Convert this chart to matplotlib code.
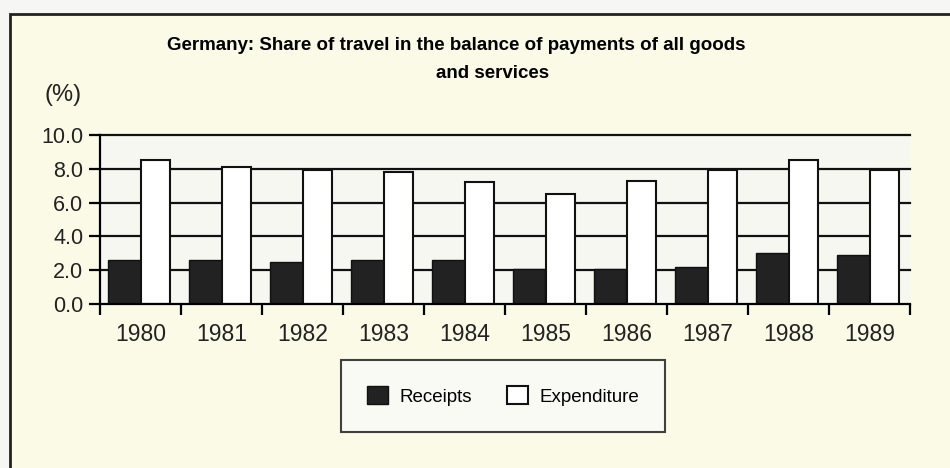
import numpy as np
import matplotlib.pyplot as plt
from matplotlib.patches import Rectangle

years = ['1980', '1981', '1982', '1983', '1984', '1985', '1986', '1987', '1988', '1989']
receipts = [2.6, 2.6, 2.5, 2.6, 2.6, 2.1, 2.1, 2.2, 3.0, 2.9]
expenditure = [8.5, 8.1, 7.9, 7.8, 7.2, 6.5, 7.3, 7.9, 8.5, 7.9]
yticks = [0.0, 2.0, 4.0, 6.0, 8.0, 10.0]

plt.rcParams['font.family'] = ['Liberation Sans', 'DejaVu Sans']

W, H = 950, 468
fig = plt.figure(figsize=(W / 100, H / 100), dpi=100)
fig.patch.set_facecolor('#f6f6f4')

# outer frame
fig.patches.append(Rectangle((10 / W, -0.05), 1.1, 1 - 14 / H + 0.05,
                             transform=fig.transFigure, facecolor='#fafae6',
                             edgecolor='#222222', linewidth=2, zorder=0))

ax = fig.add_axes([100 / W, 1 - 304 / H, 810 / W, 169 / H])
ax.set_zorder(2)
ax.set_facecolor('#f7f7f2')

x = np.arange(len(years))
ax.bar(x + 0.1, receipts, width=0.4, align='edge', color='#222222',
       edgecolor='#111111', linewidth=1, zorder=3, label='Receipts')
ax.bar(x + 0.5, expenditure, width=0.37, align='edge', color='white',
       edgecolor='#111111', linewidth=1.5, zorder=3, label='Expenditure')

for v in yticks[1:]:
    ax.axhline(v, color='#111111', linewidth=1.6, zorder=2, clip_on=False)

ax.set_xlim(0, len(years))
ax.set_ylim(0, 10)
ax.set_yticks(yticks)
ax.set_yticklabels([f'{v:.1f}' for v in yticks], fontsize=15.5, color='#222222')
ax.set_xticks(np.arange(len(years) + 1))
ax.set_xticklabels([])
ax.set_xticks(x + 0.5, minor=True)
ax.set_xticklabels(years, minor=True, fontsize=16.5, color='#222222')
ax.tick_params(axis='x', which='minor', length=0, pad=14)
ax.tick_params(axis='x', which='major', length=8, width=1.6, direction='out')
ax.tick_params(axis='y', length=8, width=1.6, direction='out', pad=4)

for s in ['top', 'right']:
    ax.spines[s].set_visible(False)
ax.spines['left'].set_linewidth(1.6)
ax.spines['bottom'].set_linewidth(1.6)
ax.spines['left'].set_zorder(4)
ax.spines['bottom'].set_zorder(4)

fig.text(456 / W, 1 - 46 / H,
         'Germany: Share of travel in the balance of payments of all goods',
         ha='center', va='center', fontsize=13.5, fontweight='bold')
fig.text(493 / W, 1 - 73 / H, 'and services', ha='center', va='center',
         fontsize=13.5, fontweight='bold')
fig.text(63 / W, 1 - 95 / H, '(%)', ha='center', va='center', fontsize=17,
         color='#222222')

leg = fig.legend(loc='center', bbox_to_anchor=(503 / W, 1 - 396 / H), ncol=2,
                 fontsize=13.5, frameon=True, fancybox=False, edgecolor='#111111',
                 borderpad=1.4, columnspacing=1.9, handlelength=1.1,
                 handleheight=1.1, handletextpad=0.6, borderaxespad=0)
leg.get_frame().set_linewidth(1.5)
leg.get_frame().set_facecolor('#fbfbf8')

plt.savefig('out.png', dpi=100, facecolor=fig.get_facecolor())
